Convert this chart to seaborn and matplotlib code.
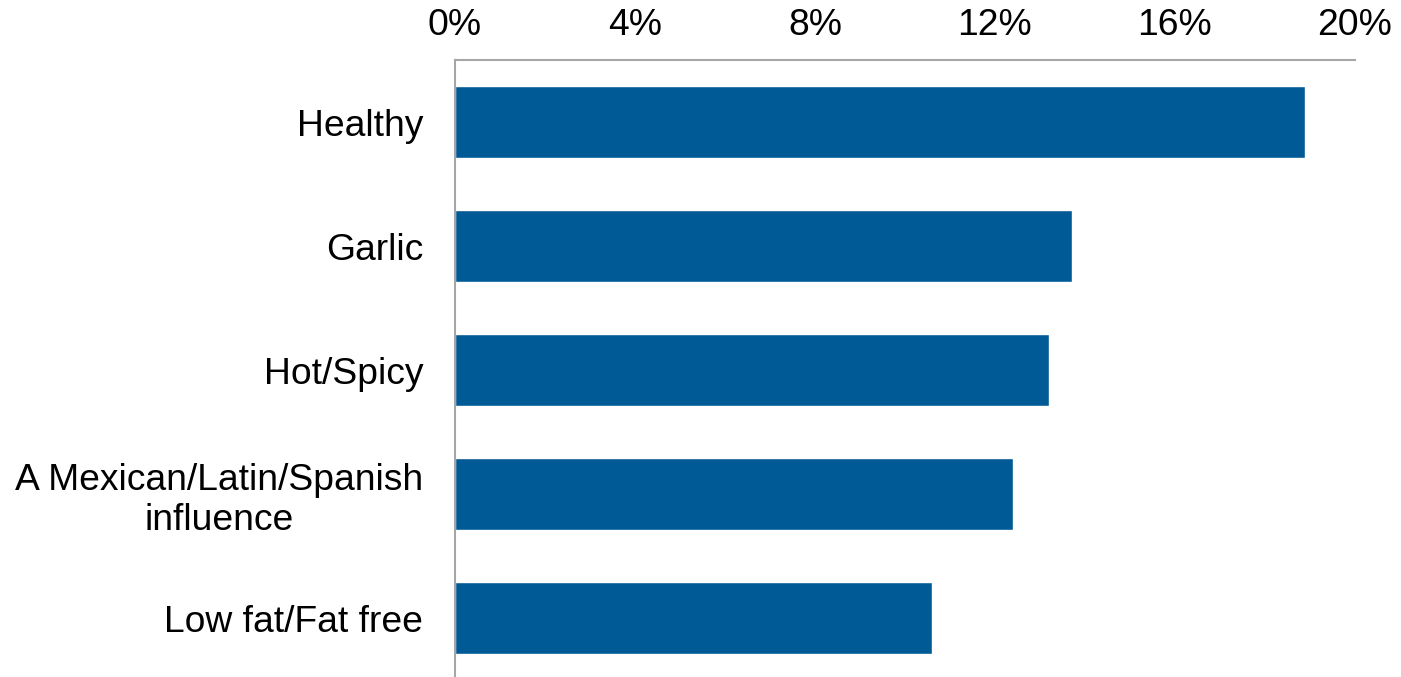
import matplotlib
matplotlib.use('Agg')
import matplotlib.pyplot as plt
import seaborn as sns
import pandas as pd
from matplotlib.ticker import FuncFormatter

categories = ['Healthy', 'Garlic', 'Hot/Spicy', 'A Mexican/Latin/Spanish\ninfluence', 'Low fat/Fat free']
shares = [18.9, 13.7, 13.2, 12.4, 10.6]
x_ticks = [0, 4, 8, 12, 16, 20]

df = pd.DataFrame({'category': categories, 'share': shares})

sns.set_theme(style='white')
plt.rcParams['font.family'] = ['Liberation Sans', 'DejaVu Sans']

fig = plt.figure(figsize=(14.01, 6.77), dpi=100)
ax = fig.add_axes([455 / 1401, -3 / 677, 900 / 1401, 620 / 677])

sns.barplot(data=df, x='share', y='category', color='#005A96', saturation=1,
            width=0.58, orient='h', ax=ax)

ax.set_xlim(0, 20)
ax.set_xticks(x_ticks)
ax.xaxis.set_major_formatter(FuncFormatter(lambda v, _: f'{v:.0f}%'))
ax.xaxis.tick_top()
ax.set_xlabel('')
ax.set_ylabel('')
ax.tick_params(axis='x', length=0, pad=12, labelsize=26.8, colors='black')
ax.tick_params(axis='y', length=0, pad=23, labelsize=26.8, colors='black')
for lbl in ax.get_yticklabels():
    lbl.set_multialignment('center')
    lbl.set_y(lbl.get_position()[1])

for side in ['right', 'bottom']:
    ax.spines[side].set_visible(False)
for side in ['top', 'left']:
    ax.spines[side].set_color('#A6A6A6')
    ax.spines[side].set_linewidth(1.5)

fig.savefig('out.png', dpi=100)
